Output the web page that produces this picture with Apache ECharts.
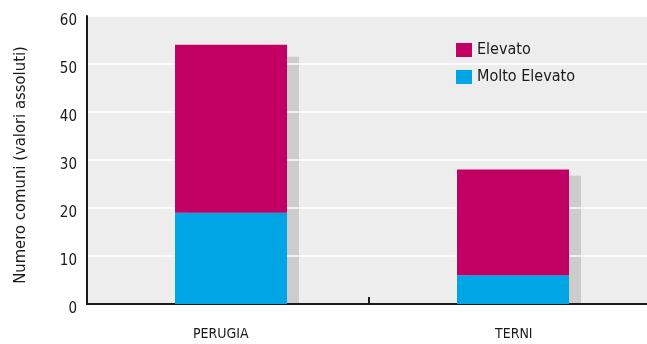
<!DOCTYPE html>
<html>
<head>
<meta charset="utf-8">
<script src="https://cdn.jsdelivr.net/npm/echarts@6/dist/echarts.min.js"></script>
<style>
  html, body { margin: 0; padding: 0; background: #ffffff; }
  #chart { width: 647px; height: 344px; }
</style>
</head>
<body>
<div id="chart"></div>
<script>
// Province categories and municipality counts
const categories = ['PERUGIA', 'TERNI'];
const moltoElevato = [19, 6];
const elevato = [35, 22];
// Grey backing bars drawn behind the stacked columns
const shadowTotals = [51.5, 26.7];
const yTicks = [0, 10, 20, 30, 40, 50, 60];

const FONT = '"Liberation Sans Narrow", "DejaVu Sans Condensed", sans-serif';
const TEXT = '#1a1a1a';

const chart = echarts.init(document.getElementById('chart'), null, { renderer: 'canvas' });

chart.setOption({
  animation: false,
  textStyle: { fontFamily: FONT },
  grid: [
    // frame, grid lines and axes
    { left: 87, top: 16, bottom: 40, width: 563, outerBoundsMode: 'none',
      backgroundColor: '#ededed', show: true, borderWidth: 0, z: -2 },
    // columns
    { left: 96, top: 16, bottom: 40, width: 564, outerBoundsMode: 'none' }
  ],
  legend: {
    orient: 'vertical',
    left: 456,
    top: 42,
    padding: 0,
    itemWidth: 16,
    itemHeight: 14,
    itemGap: 11,
    icon: 'rect',
    data: ['Elevato', 'Molto Elevato'],
    textStyle: { fontFamily: FONT, fontSize: 16, color: TEXT }
  },
  xAxis: [
    {
      gridIndex: 0,
      type: 'category',
      data: categories,
      boundaryGap: true,
      axisLine: { lineStyle: { color: TEXT, width: 2 } },
      axisTick: { show: true, inside: true, length: 7, lineStyle: { color: TEXT, width: 2 } },
      axisLabel: {
        margin: 23,
        fontSize: 14,
        color: TEXT,
        fontFamily: FONT,
        formatter: function (v) { return v === 'PERUGIA' ? '{p|' + v + '}' : '{t|' + v + '}'; },
        rich: {
          p: { fontSize: 14, fontFamily: FONT, color: TEXT, padding: [0, 14, 0, 0] },
          t: { fontSize: 14, fontFamily: FONT, color: TEXT, padding: [0, 0, 0, 9] }
        }
      },
      splitLine: { show: false }
    },
    {
      gridIndex: 1,
      type: 'category',
      data: categories,
      show: false
    }
  ],
  yAxis: [
    {
      gridIndex: 0,
      type: 'value',
      min: yTicks[0],
      max: yTicks[yTicks.length - 1],
      interval: 10,
      z: 0,
      name: 'Numero comuni (valori assoluti)',
      nameLocation: 'middle',
      nameGap: 58,
      nameRotate: 90,
      nameTextStyle: { fontFamily: FONT, fontSize: 16.5, color: TEXT, padding: [0, 10, 0, 0] },
      axisLine: { show: true, lineStyle: { color: TEXT, width: 2 } },
      axisTick: { show: false },
      axisLabel: {
        margin: 10,
        color: TEXT,
        formatter: function (v) { return '{n|' + v + '}'; },
        rich: {
          n: { fontSize: 15, fontFamily: FONT, color: TEXT, padding: [10, 0, 0, 0] }
        }
      },
      splitLine: { show: true, lineStyle: { color: '#ffffff', width: 1.5 } }
    },
    {
      gridIndex: 1,
      type: 'value',
      min: yTicks[0],
      max: yTicks[yTicks.length - 1],
      interval: 10,
      show: false
    }
  ],
  series: [
    {
      name: 'Molto Elevato',
      type: 'bar',
      xAxisIndex: 1,
      yAxisIndex: 1,
      stack: 'tot',
      barWidth: 112,
      barGap: '-89.3%',
      z: 3,
      itemStyle: { color: '#00a5e6' },
      data: moltoElevato
    },
    {
      name: 'Elevato',
      type: 'bar',
      xAxisIndex: 1,
      yAxisIndex: 1,
      stack: 'tot',
      barWidth: 112,
      z: 3,
      itemStyle: { color: '#c20064' },
      data: elevato
    },
    {
      name: 'shadow',
      type: 'bar',
      xAxisIndex: 1,
      yAxisIndex: 1,
      barWidth: 112,
      barGap: '-89.3%',
      z: -1,
      silent: true,
      itemStyle: { color: '#cccccc' },
      data: shadowTotals
    }
  ]
});
</script>
</body>
</html>
